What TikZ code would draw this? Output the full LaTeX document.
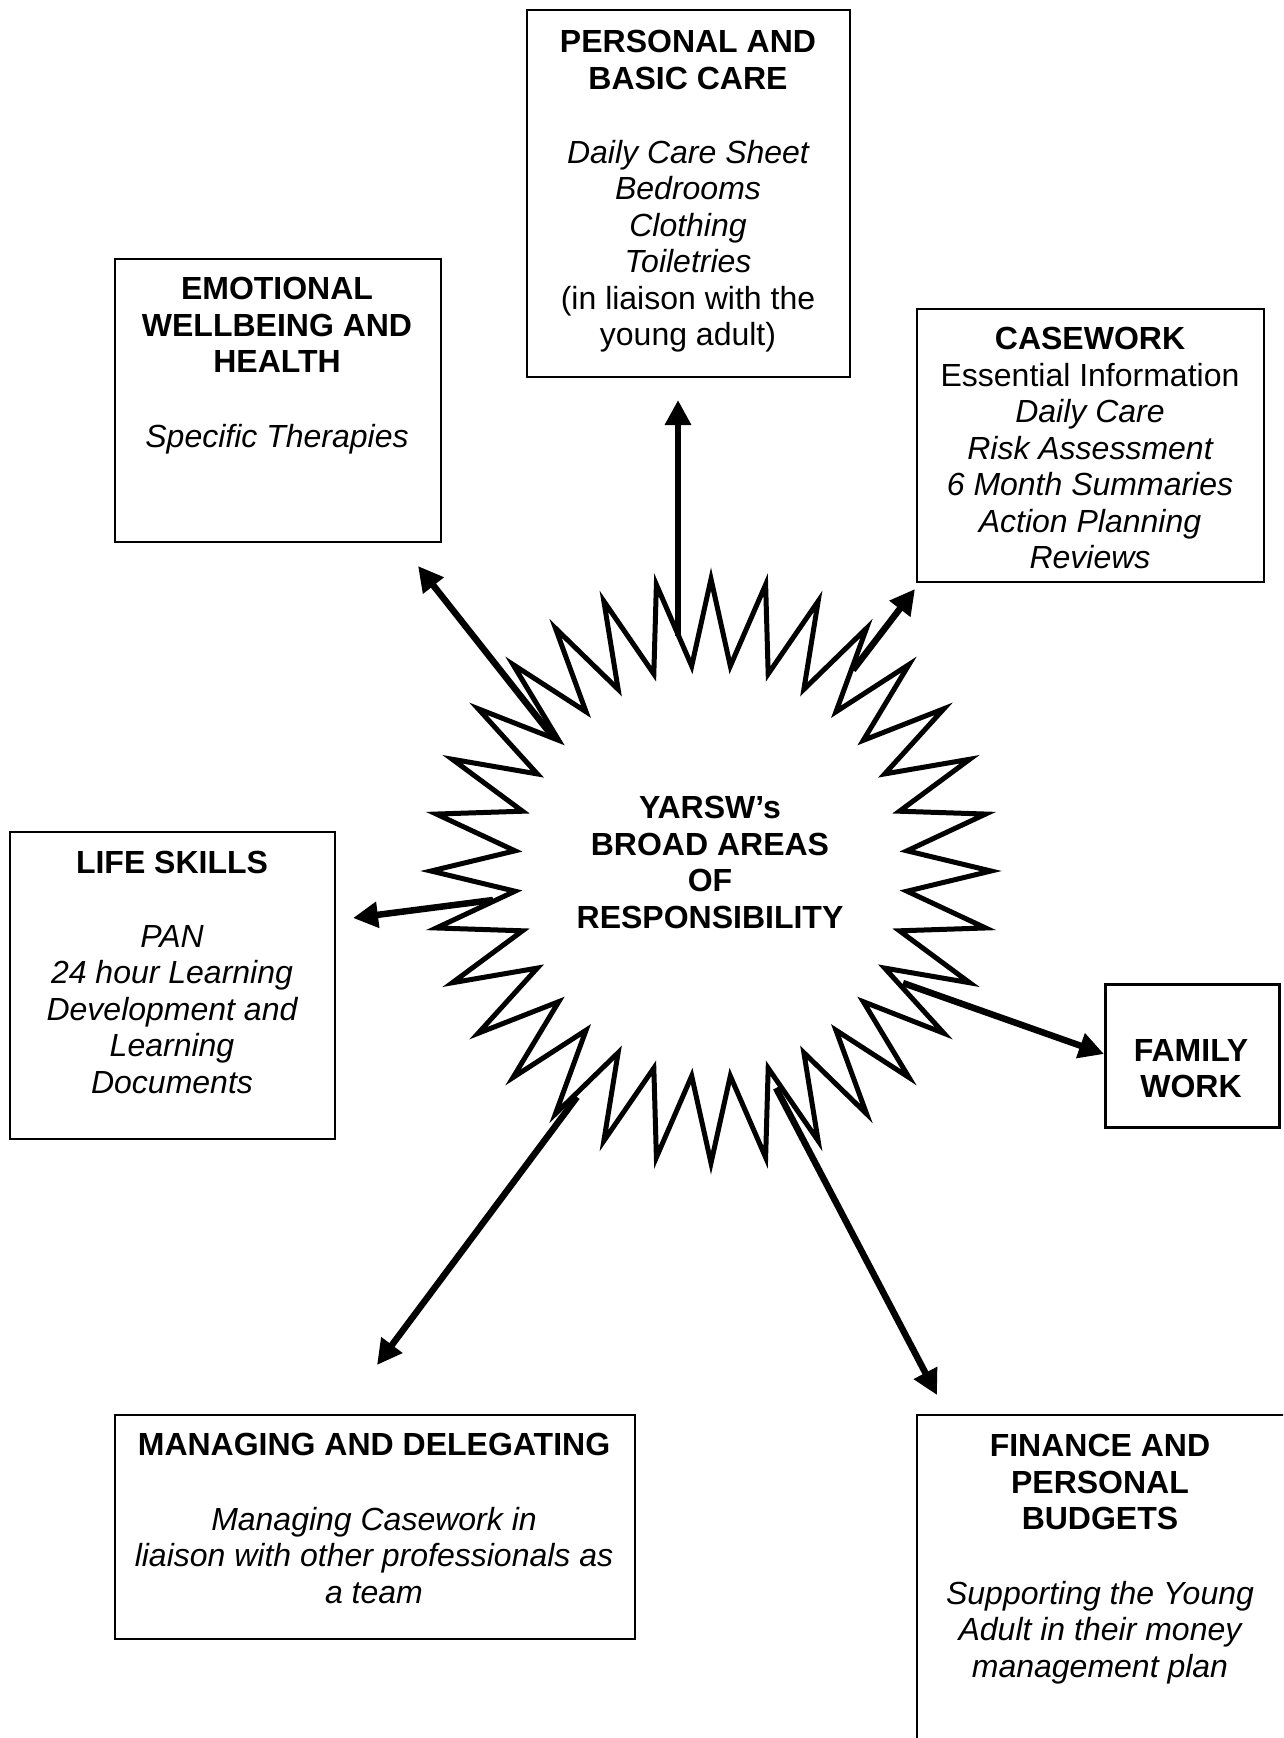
\documentclass[tikz,border=0pt]{standalone}
\usepackage{fontspec}
\setmainfont{Liberation Sans}
\usetikzlibrary{arrows.meta}
\begin{document}
\begin{tikzpicture}[x=1pt,y=-1pt,
  box/.style={draw, line width=2pt, inner sep=0pt, anchor=north west},
  txt/.style={font=\fontsize{32}{36.5}\selectfont, align=center, anchor=north, inner sep=0pt},
  ttl/.style={txt, font=\fontsize{32}{36.5}\selectfont\bfseries},
  bod/.style={txt, font=\fontsize{32}{36.5}\selectfont\itshape},
  arr/.style={line width=6.5pt, -{Triangle[length=25pt,width=25pt]}},
  starline/.style={line width=5pt, fill=white, line join=miter, miter limit=20},
]
\useasboundingbox (0,0) rectangle (1283,1738);
\clip (0,0) rectangle (1283,1738);

% boxes
\node[box, minimum width=323pt, minimum height=367pt] (pbox) at (526,9) {};
\node[box, minimum width=326pt, minimum height=283pt] (ebox) at (114,258) {};
\node[box, minimum width=347pt, minimum height=273pt] (cbox) at (916,308) {};
\node[box, minimum width=325pt, minimum height=307pt] (lbox) at (9,831) {};
\node[box, line width=2.5pt, minimum width=174pt, minimum height=143pt] (fbox) at (1104,983) {};
\node[box, minimum width=520pt, minimum height=224pt] (mbox) at (114,1414) {};
\node[box, minimum width=420pt, minimum height=400pt] (nbox) at (916,1414) {};

% star
\begin{scope}[shift={(711,871)}]
\coordinate (sc) at (0,0);
\draw[starline] (0:280 and 292)
  \foreach \k in {0,...,31}{ -- ({\k*11.25+5.625}:197 and 206) -- ({\k*11.25+11.25}:280 and 292) } -- cycle;
\end{scope}

% arrows
\coordinate (upS) at (678,636);  \coordinate (upE) at (678,400);
\coordinate (nwS) at (553,737);  \coordinate (nwE) at (418,566);
\coordinate (neS) at (853,670);  \coordinate (neE) at (915,589);
\coordinate (wS)  at (493,900);  \coordinate (wE)  at (353,918);
\coordinate (eS)  at (903,983);  \coordinate (eE)  at (1104,1054);
\coordinate (swS) at (577,1097); \coordinate (swE) at (377,1365);
\coordinate (seS) at (776,1088); \coordinate (seE) at (937,1395);
\draw[arr] (upS) -- (upE);
\draw[arr] (nwS) -- (nwE);
\draw[arr] (neS) -- (neE);
\draw[arr] (wS) -- (wE);
\draw[arr] (eS) -- (eE);
\draw[arr] (swS) -- (swE);
\draw[arr] (seS) -- (seE);

% texts
\node[ttl] (ptitle) at (688,30) {PERSONAL AND\\BASIC CARE};
\node[bod] (pbody) at (688,140) {Daily Care Sheet\\Bedrooms\\Clothing\\Toiletries\\{\upshape (in liaison with the}\\{\upshape young adult)}};

\node[ttl] (etitle) at (277,277) {EMOTIONAL\\WELLBEING AND\\HEALTH};
\node[bod] (ebody) at (277,424) {Specific Therapies};

\node[txt] (ctext) at (1090,327) {{\bfseries CASEWORK}\\Essential Information\\{\itshape Daily Care}\\{\itshape Risk Assessment}\\{\itshape 6 Month Summaries}\\{\itshape Action Planning}\\{\itshape Reviews}};

\node[ttl] (ltitle) at (172,851) {LIFE SKILLS};
\node[bod] (lbody) at (172,925) {PAN\\24 hour Learning\\Development and\\Learning\\Documents};

\node[ttl] (ftitle) at (1191,1039) {FAMILY\\WORK};

\node[ttl] (mtitle) at (374,1433) {MANAGING AND DELEGATING};
\node[bod] (mbody) at (374,1507) {Managing Casework in\\liaison with other professionals as\\a team};

\node[ttl] (ntitle) at (1100,1434) {FINANCE AND\\PERSONAL\\BUDGETS};
\node[bod] (nbody) at (1100,1581) {Supporting the Young\\Adult in their money\\management plan};

\node[ttl] (stext) at (710,796) {YARSW’s\\BROAD AREAS\\OF\\RESPONSIBILITY};
\end{tikzpicture}
\end{document}
